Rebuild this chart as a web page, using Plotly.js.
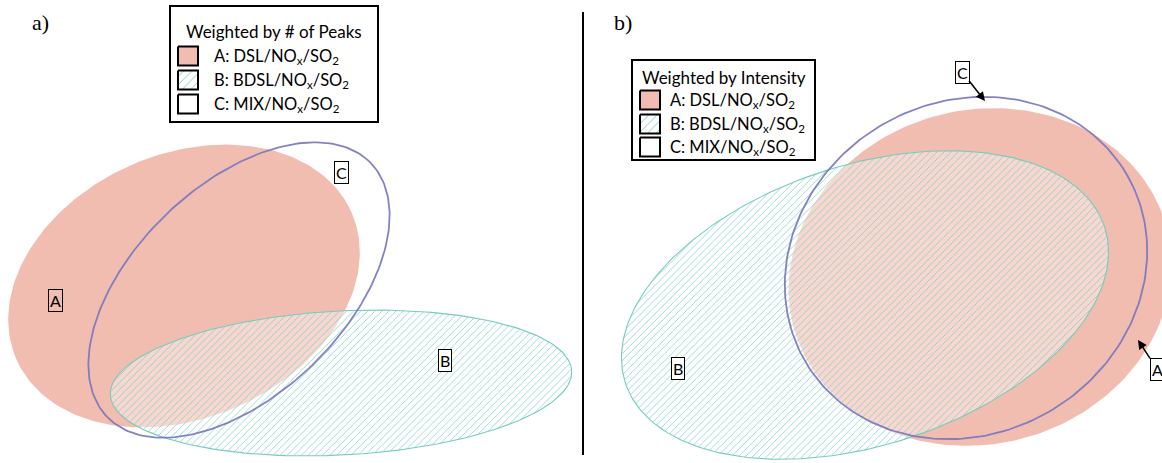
<!DOCTYPE html>
<html>
<head>
<meta charset="utf-8">
<script src="https://cdn.plot.ly/plotly-3.0.1.min.js"></script>
<style>html,body{margin:0;padding:0;background:#fff;}#chart{width:1162px;height:463px;}</style>
</head>
<body>
<div id="chart"></div>
<script>
// ---- data: ellipse parameters (pixel-space coordinates of the figure) ----
const setNames = ['A', 'B', 'C'];
const legendLabels = ['A: DSL/NO<sub>x</sub>/SO<sub>2</sub>', 'B: BDSL/NO<sub>x</sub>/SO<sub>2</sub>', 'C: MIX/NO<sub>x</sub>/SO<sub>2</sub>'];
const legendTitles = ['Weighted by # of Peaks', 'Weighted by Intensity'];
const panelTags = ['a)', 'b)'];

// panel a (weighted by # of peaks)
const peaksCx = [184, 341, 239];
const peaksCy = [286, 383, 290];
const peaksSemiMajor = [183, 231, 183];
const peaksSemiMinor = [132, 72, 105];
const peaksTiltDeg = [23.6, 3, 43.9];

// panel b (weighted by intensity)
const intCx = [980, 865, 966];
const intCy = [277, 305, 268];
const intSemiMajor = [193, 252, 186];
const intSemiMinor = [167, 140, 166];
const intTiltDeg = [15, 18, 30];

// ---- styles ----
const pink = 'rgb(242,189,177)';
const teal = 'rgb(118,204,188)';
const slate = 'rgba(118,118,190,0.9)';
const sansFont = 'Lato, "Open Sans", sans-serif';

function ellipse(cx, cy, a, b, deg) {
  const th = deg * Math.PI / 180, xs = [], ys = [];
  for (let i = 0; i <= 240; i++) {
    const t = 2 * Math.PI * i / 240;
    xs.push(cx + a * Math.cos(t) * Math.cos(th) + b * Math.sin(t) * Math.sin(th));
    ys.push(cy - a * Math.cos(t) * Math.sin(th) + b * Math.sin(t) * Math.cos(th));
  }
  return {x: xs, y: ys};
}

function setTrace(k, e) {
  if (k === 0) return {type: 'scatter', mode: 'lines', x: e.x, y: e.y, fill: 'toself', fillcolor: pink, line: {width: 0, color: pink}, hoverinfo: 'skip', showlegend: false};
  if (k === 1) return {type: 'scatter', mode: 'lines', x: e.x, y: e.y, fill: 'toself', fillcolor: 'rgba(255,255,255,0.4)',
    fillpattern: {shape: '/', fgcolor: teal, bgcolor: 'rgba(255,255,255,0.4)', size: 5, solidity: 0.14},
    line: {width: 1.1, color: teal}, hoverinfo: 'skip', showlegend: false};
  return {type: 'scatter', mode: 'lines', x: e.x, y: e.y, line: {width: 1.8, color: slate}, hoverinfo: 'skip', showlegend: false};
}

const traces = [];
const panels = [
  [peaksCx, peaksCy, peaksSemiMajor, peaksSemiMinor, peaksTiltDeg],
  [intCx, intCy, intSemiMajor, intSemiMinor, intTiltDeg]
];
panels.forEach(p => {
  for (let k = 0; k < 3; k++) {
    traces.push(setTrace(k, ellipse(p[0][k], p[1][k], p[2][k], p[3][k], p[4][k])));
  }
});

// legend boxes (layout positions)
const legendBoxes = [
  {x0: 170, x1: 378, y0: 6, y1: 122, titleY: 31, rowY: [56, 80, 104], swX: 178, txtX: 212},
  {x0: 632, x1: 815, y0: 60, y1: 160, titleY: 77, rowY: [100, 124, 147], swX: 640, txtX: 668}
];
const shapes = [];
const annotations = [];
legendBoxes.forEach((L, li) => {
  shapes.push({type: 'rect', xref: 'x', yref: 'y', x0: L.x0, x1: L.x1, y0: L.y0, y1: L.y1, line: {color: '#000', width: 2}, fillcolor: '#fff', layer: 'below'});
  annotations.push({xref: 'x', yref: 'y', x: (L.x0 + L.x1) / 2, y: L.titleY, text: legendTitles[li], showarrow: false, xanchor: 'center', yanchor: 'middle', font: {family: sansFont, size: 17, color: '#000'}});
  L.rowY.forEach((ry, k) => {
    const sx = [L.swX, L.swX + 20, L.swX + 20, L.swX, L.swX];
    const sy = [ry - 9.5, ry - 9.5, ry + 9.5, ry + 9.5, ry - 9.5];
    const tr = {type: 'scatter', mode: 'lines', x: sx, y: sy, fill: 'toself', line: {color: '#000', width: 2}, hoverinfo: 'skip', showlegend: false};
    if (k === 0) tr.fillcolor = pink;
    else if (k === 1) { tr.fillcolor = '#fff'; tr.fillpattern = {shape: '/', fgcolor: teal, bgcolor: '#fff', size: 6, solidity: 0.15}; }
    else tr.fillcolor = '#fff';
    traces.push(tr);
    annotations.push({xref: 'x', yref: 'y', x: L.txtX, y: ry, text: legendLabels[k], showarrow: false, xanchor: 'left', yanchor: 'middle', font: {family: sansFont, size: 16.5, color: '#000'}});
  });
});

// panel tags
annotations.push({xref: 'x', yref: 'y', x: 40, y: 22, text: panelTags[0], showarrow: false, font: {family: '"Liberation Serif", serif', size: 22, color: '#000'}});
annotations.push({xref: 'x', yref: 'y', x: 623, y: 22, text: panelTags[1], showarrow: false, font: {family: '"Liberation Serif", serif', size: 22, color: '#000'}});

// divider
shapes.push({type: 'line', xref: 'x', yref: 'y', x0: 583, x1: 583, y0: 12, y1: 455, line: {color: '#000', width: 2}});

// set labels
const boxLabel = (x, y, t, bg) => ({xref: 'x', yref: 'y', x: x, y: y, text: t, showarrow: false, bordercolor: '#000', borderwidth: 1, borderpad: 1, bgcolor: bg, font: {family: sansFont, size: 16, color: '#000'}});
annotations.push(boxLabel(55, 300, setNames[0], 'rgba(0,0,0,0)'));
annotations.push(boxLabel(341, 172, setNames[2], '#fff'));
annotations.push(boxLabel(445, 360, setNames[1], '#fff'));
annotations.push(boxLabel(678, 368, setNames[1], '#fff'));
const arrowLabel = (x, y, ax, ay, t) => ({xref: 'x', yref: 'y', axref: 'x', ayref: 'y', x: x, y: y, ax: ax, ay: ay, text: t, showarrow: true, arrowhead: 2, arrowsize: 1.2, arrowwidth: 1.5, arrowcolor: '#000', bordercolor: '#000', borderwidth: 1, borderpad: 1, bgcolor: '#fff', font: {family: sansFont, size: 16, color: '#000'}});
annotations.push(arrowLabel(985, 101, 962, 72, setNames[2]));
annotations.push(arrowLabel(1138, 340, 1157, 369, setNames[0]));

const layout = {
  width: 1162, height: 463,
  margin: {l: 0, r: 0, t: 0, b: 0},
  paper_bgcolor: '#fff', plot_bgcolor: '#fff',
  xaxis: {range: [0, 1162], visible: false, fixedrange: true},
  yaxis: {range: [463, 0], visible: false, fixedrange: true},
  shapes: shapes,
  annotations: annotations,
  showlegend: false
};

Plotly.newPlot('chart', traces, layout, {displayModeBar: false, staticPlot: true});
</script>
</body>
</html>
